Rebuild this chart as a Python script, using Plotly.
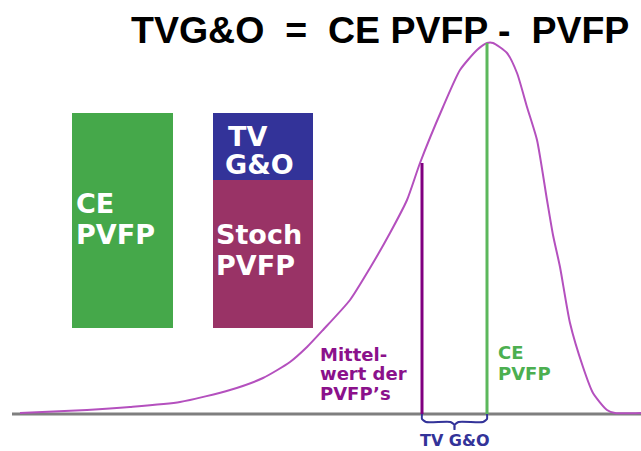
import plotly.graph_objects as go

# Distribution curve (x position, density above baseline)
curve_x = [20, 87, 130, 180, 230, 263, 290, 307, 323, 350, 370, 390, 407, 420, 443, 460, 477, 487,
           493, 507, 517, 527, 537, 547, 553, 560, 570, 583, 593, 607, 615, 641]
curve_y = [1, 4, 7, 12, 24, 36, 52, 67, 84, 114, 146, 181, 214, 251, 307, 344, 364, 371,
           371, 361, 341, 307, 274, 214, 179, 147, 91, 47, 21, 4, 1, 1]

# Vertical markers
mean_x, mean_y = 422, 251
ce_x, ce_y = 487, 371

# Bars (boxes)
box_x = [122.5, 263, 263]
box_w = [101, 100, 100]
box_base = [86, 86, 234]
box_h = [215, 148, 67]
box_colors = ["#45a84a", "#993366", "#333399"]

fig = go.Figure()

# boxes
fig.add_trace(go.Bar(x=box_x, y=box_h, base=box_base, width=box_w,
                     marker=dict(color=box_colors, line=dict(width=0)),
                     hoverinfo="skip", showlegend=False))

# baseline
fig.add_trace(go.Scatter(x=[12, 641], y=[0, 0], mode="lines",
                         line=dict(color="#7f7f7f", width=3), showlegend=False, hoverinfo="skip"))

# curve
fig.add_trace(go.Scatter(x=curve_x, y=curve_y, mode="lines",
                         line=dict(color="#b450be", width=2, shape="spline", smoothing=0.6),
                         showlegend=False, hoverinfo="skip"))

# vertical lines
fig.add_trace(go.Scatter(x=[mean_x, mean_x], y=[0, mean_y], mode="lines",
                         line=dict(color="#800080", width=3), showlegend=False, hoverinfo="skip"))
fig.add_trace(go.Scatter(x=[ce_x, ce_x], y=[0, ce_y], mode="lines",
                         line=dict(color="#5cb85c", width=3), showlegend=False, hoverinfo="skip"))

# brace
mid = (mean_x + ce_x) / 2
brace_x = [mean_x, mean_x, mean_x + 4, mid - 4, mid, mid, mid, mid + 4, ce_x - 4, ce_x, ce_x]
brace_y = [0, -5, -8, -8, -11, -16, -11, -8, -8, -5, 0]
fig.add_trace(go.Scatter(x=brace_x, y=brace_y, mode="lines",
                         line=dict(color="#333399", width=2, shape="spline", smoothing=0.5),
                         showlegend=False, hoverinfo="skip"))

def ann(text, x, y, size, color, xanchor="left", family="DejaVu Sans", bold=True):
    fig.add_annotation(x=x, y=y, xref="x", yref="y", text=("<b>%s</b>" % text) if bold else text,
                       showarrow=False, xanchor=xanchor, yanchor="middle",
                       font=dict(family=family, size=size, color=color))

# title
ann("TVG&amp;O&nbsp;&nbsp;=&nbsp;&nbsp;CE PVFP -&nbsp;&nbsp;PVFP", 380, 414 - 30, 37.5, "black",
    xanchor="center", family="Liberation Sans")

# box texts
ann("CE", 74, 414 - 203, 27, "white")
ann("PVFP", 74, 414 - 234, 27, "white")
ann("TV", 226, 414 - 136, 27, "white")
ann("G&amp;O", 223, 414 - 164, 27, "white")
ann("Stoch", 214, 414 - 234, 27, "white")
ann("PVFP", 214, 414 - 265, 27, "white")

# curve labels
ann("Mittel-", 318, 414 - 354, 18, "#8b118b")
ann("wert der", 318, 414 - 373, 18, "#8b118b")
ann("PVFP’s", 318, 414 - 393, 18, "#8b118b")
ann("CE", 496, 414 - 352, 18, "#4caf50")
ann("PVFP", 496, 414 - 373, 18, "#4caf50")
ann("TV G&amp;O", mid, 414 - 440, 16, "#333399", xanchor="center")

fig.update_layout(
    width=641, height=451,
    margin=dict(l=0, r=0, t=0, b=0),
    paper_bgcolor="white", plot_bgcolor="white",
    xaxis=dict(range=[0, 641], visible=False, fixedrange=True),
    yaxis=dict(range=[-37, 414], visible=False, fixedrange=True),
    barmode="overlay",
    showlegend=False,
)

fig.write_html("out.html", config={"displayModeBar": False},
               post_script="document.body.style.margin='0';document.body.style.overflow='hidden';")
